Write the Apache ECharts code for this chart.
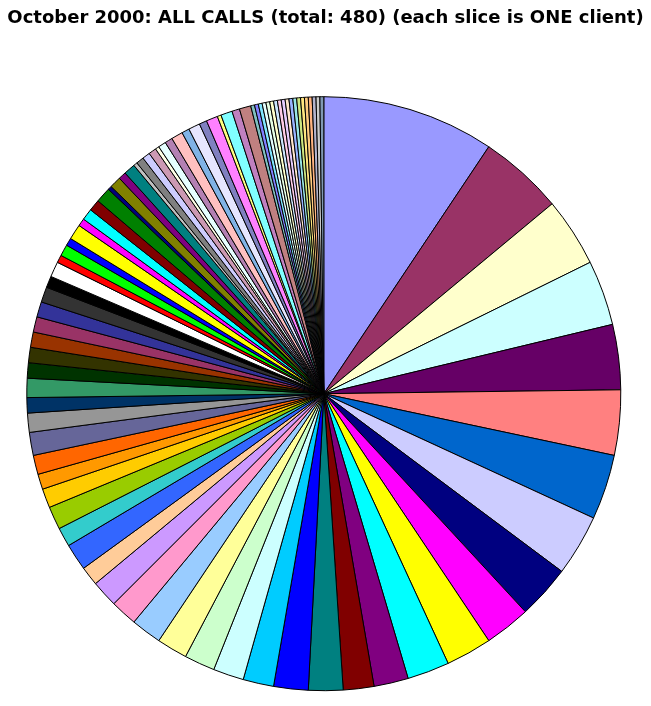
<!DOCTYPE html>
<html>
<head>
<meta charset="utf-8">
<script src="https://cdn.jsdelivr.net/npm/echarts@6/dist/echarts.min.js"></script>
<style>
  html, body { margin: 0; padding: 0; background: #ffffff; }
  #chart { width: 651px; height: 706px; }
</style>
</head>
<body>
<div id="chart"></div>
<script>
// Calls per client, in drawing order (clockwise from 12 o'clock)
const callsPerClient = [
  45, 22, 18, 17, 17, 17, 17, 16, 14, 12,
  12, 11, 9, 8, 9, 9, 8, 8, 8, 8,
  8, 7, 7, 5, 7, 5, 6, 5, 4, 5,
  6, 5, 4, 5, 4, 4, 4, 4, 4, 4,
  3, 4, 2, 3, 2, 4, 2, 3, 3, 4,
  1, 3, 2, 3,
  1, 2, 2, 2, 1, 2, 2, 3, 2, 3,
  2, 3, 1, 3, 2, 3, 1,
  1, 1, 1, 1, 1, 1, 1, 1, 1,
  1, 1, 1, 1, 1, 1, 1, 1, 1
];
const clientNames = callsPerClient.map((v, i) => 'Client ' + (i + 1));

// Excel 97 default 56-colour palette (index 1..56)
const excelPalette = [
  '#000000','#FFFFFF','#FF0000','#00FF00','#0000FF','#FFFF00','#FF00FF','#00FFFF',
  '#800000','#008000','#000080','#808000','#800080','#008080','#C0C0C0','#808080',
  '#9999FF','#993366','#FFFFCC','#CCFFFF','#660066','#FF8080','#0066CC','#CCCCFF',
  '#000080','#FF00FF','#FFFF00','#00FFFF','#800080','#800000','#008080','#0000FF',
  '#00CCFF','#CCFFFF','#CCFFCC','#FFFF99','#99CCFF','#FF99CC','#CC99FF','#FFCC99',
  '#3366FF','#33CCCC','#99CC00','#FFCC00','#FF9900','#FF6600','#666699','#969696',
  '#003366','#339966','#003300','#333300','#993300','#993366','#333399','#333333'
];

function mixWhite(hex) {
  const n = parseInt(hex.slice(1), 16);
  const r = (n >> 16) & 255, g = (n >> 8) & 255, b = n & 255;
  const m = c => Math.round((c + 255) / 2);
  return 'rgb(' + m(r) + ',' + m(g) + ',' + m(b) + ')';
}

const sliceColors = callsPerClient.map((v, i) => {
  const base = excelPalette[(16 + i) % 56];
  return i >= 56 ? mixWhite(base) : base; // later slices use a 50% dither pattern
});

const data = callsPerClient.map((v, i) => ({
  name: clientNames[i],
  value: v,
  itemStyle: { color: sliceColors[i] }
}));

const chart = echarts.init(document.getElementById('chart'), null, { renderer: 'canvas' });
chart.setOption({
  animation: false,
  backgroundColor: '#ffffff',
  title: {
    text: 'October 2000: ALL CALLS (total: 480) (each slice is ONE client)',
    left: 'center',
    top: 4,
    textStyle: {
      fontFamily: 'DejaVu Sans',
      fontSize: 18,
      fontWeight: 'bold',
      color: '#000000'
    }
  },
  series: [{
    type: 'pie',
    center: [323.8, 393.7],
    radius: 297,
    startAngle: 90,
    clockwise: true,
    minAngle: 0,
    avoidLabelOverlap: false,
    silent: true,
    label: { show: false },
    labelLine: { show: false },
    emphasis: { disabled: true },
    itemStyle: { borderColor: '#000000', borderWidth: 1 },
    data: data
  }]
});
</script>
</body>
</html>
